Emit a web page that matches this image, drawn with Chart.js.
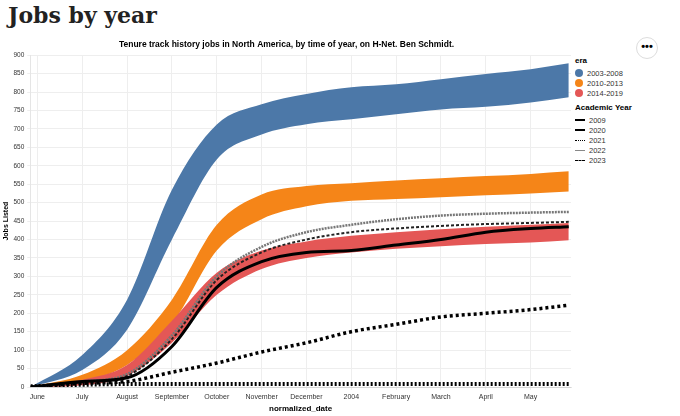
<!DOCTYPE html>
<html>
<head>
<meta charset="utf-8">
<script src="https://cdn.jsdelivr.net/npm/chart.js@4"></script>
<style>
body { margin:0; background:#fff; font-family: "Liberation Sans", Arial, sans-serif; }
h1 { position:absolute; left:8px; top:2px; margin:0; font-family:"DejaVu Serif", serif; font-size:22px; font-weight:bold; color:#222; }
#box { position:absolute; left:0; top:38px; width:575px; height:376px; }
#legend { position:absolute; left:575px; top:54px; font-size:7.5px; color:#333; }
#legend b { display:block; font-size:8px; margin:2px 0 3px; color:#000; }
.row { height:10px; display:flex; align-items:center; }
.dot { width:8px; height:8px; border-radius:50%; margin-right:4px; }
.ln { width:10px; margin-right:4px; border-top:2px solid #000; }
#more { position:absolute; left:636px; top:37px; width:20px; height:20px; border:1px solid #ddd; border-radius:50%; text-align:center; font-size:11px; line-height:16px; font-weight:bold; }
</style>
</head>
<body>
<h1>Jobs by year</h1>
<div id="box"><canvas id="c"></canvas></div>
<div id="more">•••</div>
<div id="legend">
  <b>era</b>
  <div class="row"><span class="dot" style="background:#4c78a8"></span>2003-2008</div>
  <div class="row"><span class="dot" style="background:#f58518"></span>2010-2013</div>
  <div class="row"><span class="dot" style="background:#e45756"></span>2014-2019</div>
  <b style="margin-top:5px">Academic Year</b>
  <div class="row"><span class="ln"></span>2009</div>
  <div class="row"><span class="ln" style="border-top:2px dashed #000"></span>2020</div>
  <div class="row"><span class="ln" style="border-top:1px dotted #000"></span>2021</div>
  <div class="row"><span class="ln" style="border-top:1px solid #888"></span>2022</div>
  <div class="row"><span class="ln" style="border-top:1px dashed #000"></span>2023</div>
</div>
<script>
const xs = [-0.15, 1, 2, 3, 4, 5, 6, 7, 8, 9, 10, 11, 11.85];
const monthLabels = ['June','July','August','September','October','November','December','2004','February','March','April','May'];

const blueLow  = [0, 46, 155, 400, 617, 685, 713, 726, 740, 753, 760, 772, 786];
const blueHigh = [0, 87, 237, 535, 712, 767, 795, 813, 821, 835, 849, 862, 878];
const orangeLow  = [0, 15, 60, 170, 370, 455, 490, 505, 510, 515, 520, 525, 530];
const orangeHigh = [0, 33, 100, 237, 440, 522, 545, 553, 560, 566, 572, 578, 585];
const redLow  = [0, 5, 30, 120, 250, 320, 350, 365, 375, 382, 388, 392, 398];
const redHigh = [0, 20, 60, 180, 310, 370, 395, 410, 420, 428, 435, 440, 445];

const y2009 = [0, 15, 25, 110, 270, 340, 365, 370, 385, 400, 420, 430, 435];
const y2020 = [2, 6, 8, 8, 8, 8, 8, 8, 8, 8, 8, 8, 8];
const y2021 = [0, 10, 15, 40, 65, 95, 120, 150, 170, 190, 200, 210, 222];
const y2022 = [0, 15, 35, 140, 300, 380, 420, 440, 455, 465, 470, 473, 475];
const y2023 = [0, 12, 30, 130, 290, 365, 400, 420, 430, 437, 442, 445, 448];

const pts = arr => arr.map((v, i) => ({ x: xs[i], y: v }));
const band = (data, color, fill) => ({ data: pts(data), borderWidth: 0, pointRadius: 0, backgroundColor: color, fill, cubicInterpolationMode: 'monotone' });
const line = (data, color, w, dash) => ({ data: pts(data), borderColor: color, borderWidth: w, borderDash: dash, pointRadius: 0, fill: false, cubicInterpolationMode: 'monotone' });

new Chart(document.getElementById('c'), {
  type: 'line',
  data: {
    datasets: [
      line(y2020, '#000', 4, [2, 2]),
      line(y2021, '#000', 3.5, [3, 3]),
      line(y2009, '#000', 3, []),
      line(y2023, '#222', 2, [3, 2]),
      line(y2022, '#777', 2.5, [2, 1]),
      band(redLow, '#e45756', false),
      band(redHigh, '#e45756', '-1'),
      band(orangeLow, '#f58518', false),
      band(orangeHigh, '#f58518', '-1'),
      band(blueLow, '#4c78a8', false),
      band(blueHigh, '#4c78a8', '-1')
    ]
  },
  options: {
    responsive: true,
    maintainAspectRatio: false,
    animation: false,
    layout: { padding: { left: 2, right: 4, top: 0, bottom: 0 } },
    plugins: {
      legend: { display: false },
      tooltip: { enabled: false },
      title: { display: true, text: 'Tenure track history jobs in North America, by time of year, on H-Net. Ben Schmidt.',
               color: '#000', font: { size: 8.5, weight: 'bold' }, padding: { top: 2, bottom: 5 } }
    },
    scales: {
      x: {
        type: 'linear', min: -0.16, max: 11.9,
        afterBuildTicks: ax => { ax.ticks = monthLabels.map((_, i) => ({ value: i })); },
        ticks: { callback: v => monthLabels[v], font: { size: 7 }, color: '#333', maxRotation: 0, autoSkip: false },
        grid: { color: '#eee', tickLength: 3 },
        title: { display: true, text: 'normalized_date', font: { size: 8, weight: 'bold' }, color: '#000', padding: 0 }
      },
      y: {
        min: 0, max: 900,
        ticks: { stepSize: 50, font: { size: 6.5 }, color: '#333' },
        grid: { color: '#eee', tickLength: 3 },
        title: { display: true, text: 'Jobs Listed', font: { size: 7, weight: 'bold' }, color: '#000', padding: 0 }
      }
    }
  }
});
</script>
</body>
</html>
